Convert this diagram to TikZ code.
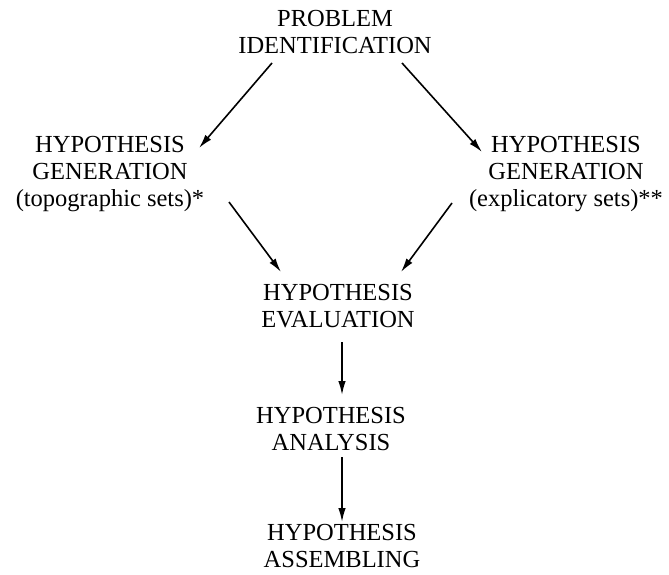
\documentclass[tikz,border=0pt]{standalone}
\usepackage{fontspec}
\setmainfont{Liberation Serif}
\usetikzlibrary{arrows.meta}

\tikzset{
  stage/.style={align=center, inner sep=0pt, font=\fontsize{24.5}{27}\selectfont},
  flow/.style={-{Latex[length=14pt,width=7.5pt]}, line width=1.6pt}
}

\begin{document}
\begin{tikzpicture}[x=1pt, y=-1pt]
\useasboundingbox (0,0) rectangle (669,575);
\node[stage] (prob) at (335,32) {PROBLEM\\IDENTIFICATION}; % top
\node[stage] (topo) at (110,174) {HYPOTHESIS\\GENERATION\\(topographic sets)*}; % left
\node[stage] (expl) at (566,174) {HYPOTHESIS\\GENERATION\\(explicatory sets)**}; % right
\node[stage] (eval) at (338,306) {HYPOTHESIS\\EVALUATION};
\node[stage] (anal) at (331,429) {HYPOTHESIS\\ANALYSIS};
\node[stage] (assem) at (342,546) {HYPOTHESIS\\ASSEMBLING};
\draw[flow] ([shift={(-63,31)}]prob.center) -- ([shift={(89,-26)}]topo.center);
\draw[flow] ([shift={(67,31)}]prob.center) -- ([shift={(-84,-22)}]expl.center);
\draw[flow] ([shift={(119,28)}]topo.center) -- ([shift={(-57,-34)}]eval.center);
\draw[flow] ([shift={(-114,29)}]expl.center) -- ([shift={(63,-34)}]eval.center);
\draw[flow] ([shift={(4,36)}]eval.center) -- ([shift={(11,-34)}]anal.center);
\draw[flow] ([shift={(11,28)}]anal.center) -- ([shift={(0,-24)}]assem.center);
\end{tikzpicture}
\end{document}
